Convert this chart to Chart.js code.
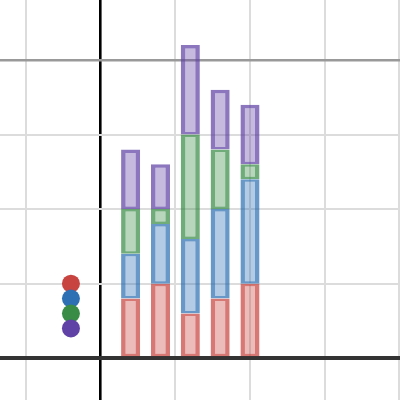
<!DOCTYPE html>
<html>
<head>
<meta charset="utf-8">
<script src="https://cdn.jsdelivr.net/npm/chart.js@4/dist/chart.umd.min.js"></script>
<style>
  html, body { margin: 0; padding: 0; background: #fff; }
  #wrap { width: 400px; height: 400px; }
</style>
</head>
<body>
<div id="wrap"><canvas id="c" width="400" height="400"></canvas></div>
<script>
// ---- data ----
const barX = [0.4, 0.8, 1.2, 1.6, 2.0];
const redValues = [0.8, 1.0, 0.6, 0.8, 1.0];
const blueValues = [0.6, 0.8, 1.0, 1.2, 1.4];
const greenValues = [0.6, 0.2, 1.4, 0.8, 0.2];
const purpleValues = [0.8, 0.6, 1.2, 0.8, 0.8];
const dotX = [-0.4, -0.4, -0.4, -0.4];
const dotY = [1.0, 0.8, 0.6, 0.4];
const xTicks = [-1, 0, 1, 2, 3, 4];
const yTicks = [0, 1, 2, 3, 4];
const refLineY = 4;

const colors = {
  red: [199, 68, 64],
  blue: [45, 112, 179],
  green: [56, 140, 70],
  purple: [96, 66, 166]
};
const rgba = (c, a) => `rgba(${c[0]},${c[1]},${c[2]},${a})`;

function barSet(label, values, col, isTop) {
  return {
    type: 'bar',
    label,
    stack: 'bars',
    data: barX.map((x, i) => ({ x, y: values[i] })),
    backgroundColor: rgba(col, 0.36),
    borderColor: rgba(col, 0.72),
    borderWidth: { left: 4.5, right: 4.5, top: isTop ? 3.5 : 2.5, bottom: 2.5 },
    borderSkipped: false,
    barPercentage: 0.64,
    categoryPercentage: 1.0
  };
}

const dotColors = [colors.red, colors.blue, colors.green, colors.purple].map(c => rgba(c, 1));

new Chart(document.getElementById('c'), {
  type: 'bar',
  data: {
    datasets: [
      {
        type: 'scatter',
        label: 'dots',
        stack: 'dots',
        data: dotX.map((x, i) => ({ x, y: dotY[i] })),
        pointRadius: 9,
        pointHoverRadius: 9,
        pointBorderWidth: 0,
        pointBackgroundColor: dotColors,
        pointBorderColor: dotColors,
        showLine: false
      },
      barSet('red', redValues, colors.red, false),
      barSet('blue', blueValues, colors.blue, false),
      barSet('green', greenValues, colors.green, false),
      barSet('purple', purpleValues, colors.purple, true)
    ]
  },
  options: {
    responsive: false,
    animation: false,
    events: [],
    layout: { padding: 0, autoPadding: false },
    plugins: { legend: { display: false }, tooltip: { enabled: false } },
    scales: {
      x: {
        type: 'linear',
        stacked: true,
        min: -1.351,
        max: 4.011,
        offset: false,
        afterBuildTicks: s => { s.ticks = xTicks.map(v => ({ value: v })); },
        ticks: { display: false },
        border: { display: false },
        grid: {
          offset: false,
          drawTicks: false,
          color: ctx => ctx.tick && ctx.tick.value === 0 ? '#000' : '#dcdcdc',
          lineWidth: ctx => ctx.tick && ctx.tick.value === 0 ? 2.6 : 2
        }
      },
      y: {
        type: 'linear',
        stacked: true,
        min: -0.559,
        max: 4.803,
        afterBuildTicks: s => { s.ticks = yTicks.map(v => ({ value: v })); },
        ticks: { display: false },
        border: { display: false },
        grid: {
          offset: false,
          drawTicks: false,
          color: ctx => {
            if (!ctx.tick) return '#dcdcdc';
            if (ctx.tick.value === 0) return '#333';
            if (ctx.tick.value === refLineY) return '#999';
            return '#dcdcdc';
          },
          lineWidth: ctx => {
            if (!ctx.tick) return 2;
            if (ctx.tick.value === 0) return 4;
            if (ctx.tick.value === refLineY) return 2.5;
            return 2;
          }
        }
      }
    }
  }
});
</script>
</body>
</html>
